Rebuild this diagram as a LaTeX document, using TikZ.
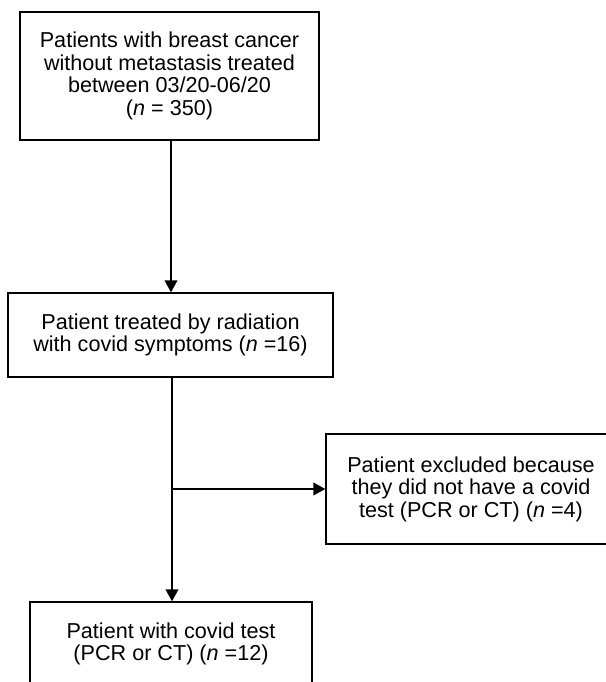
\documentclass[tikz,border=0pt]{standalone}
\usepackage{fontspec}
\setmainfont{Liberation Sans}
\usetikzlibrary{arrows.meta}

\tikzset{
	box/.style={draw,line width=1pt,align=center,inner sep=0pt,font=\fontsize{16.2}{16.9}\selectfont},
	arr/.style={line width=1.3pt,-{Triangle[width=9.5pt,length=9pt]}}
}

\begin{document}
\begin{tikzpicture}[x=0.75pt,y=-0.75pt]
	\useasboundingbox (0,0) rectangle (606,682);
	\clip (0,0) rectangle (606,682);
	
	%BOXES
	\node[box,minimum width=224.25pt,minimum height=96pt] (start) at (169.5,76)
	{Patients with breast cancer\\without metastasis treated\\between 03/20-06/20\\(\textit{n} = 350)};
	\node[box,minimum width=243.75pt,minimum height=63pt] (radio) at (170.5,335)
	{Patient treated by radiation\\with covid symptoms (\textit{n} =16)};
	\node[box,minimum width=217.5pt,minimum height=82.5pt] (excl) at (471,489)
	{Patient excluded because\\they did not have a covid\\test (PCR or CT) (\textit{n} =4)};
	\node[box,minimum width=211.5pt,minimum height=63pt] (test) at (171,644)
	{Patient with covid test\\(PCR or CT) (\textit{n} =12)};
	
	%ARROWS
	\draw[arr] (start.south -| 171,0) -- (radio.north -| 171,0);
	\draw[arr] (radio.south -| 172,0) -- (test.north -| 172,0);
	\coordinate (split) at (excl.west -| 172,0);	%branch point
	\draw[arr] (split) -- (excl.west);
\end{tikzpicture}
\end{document}
